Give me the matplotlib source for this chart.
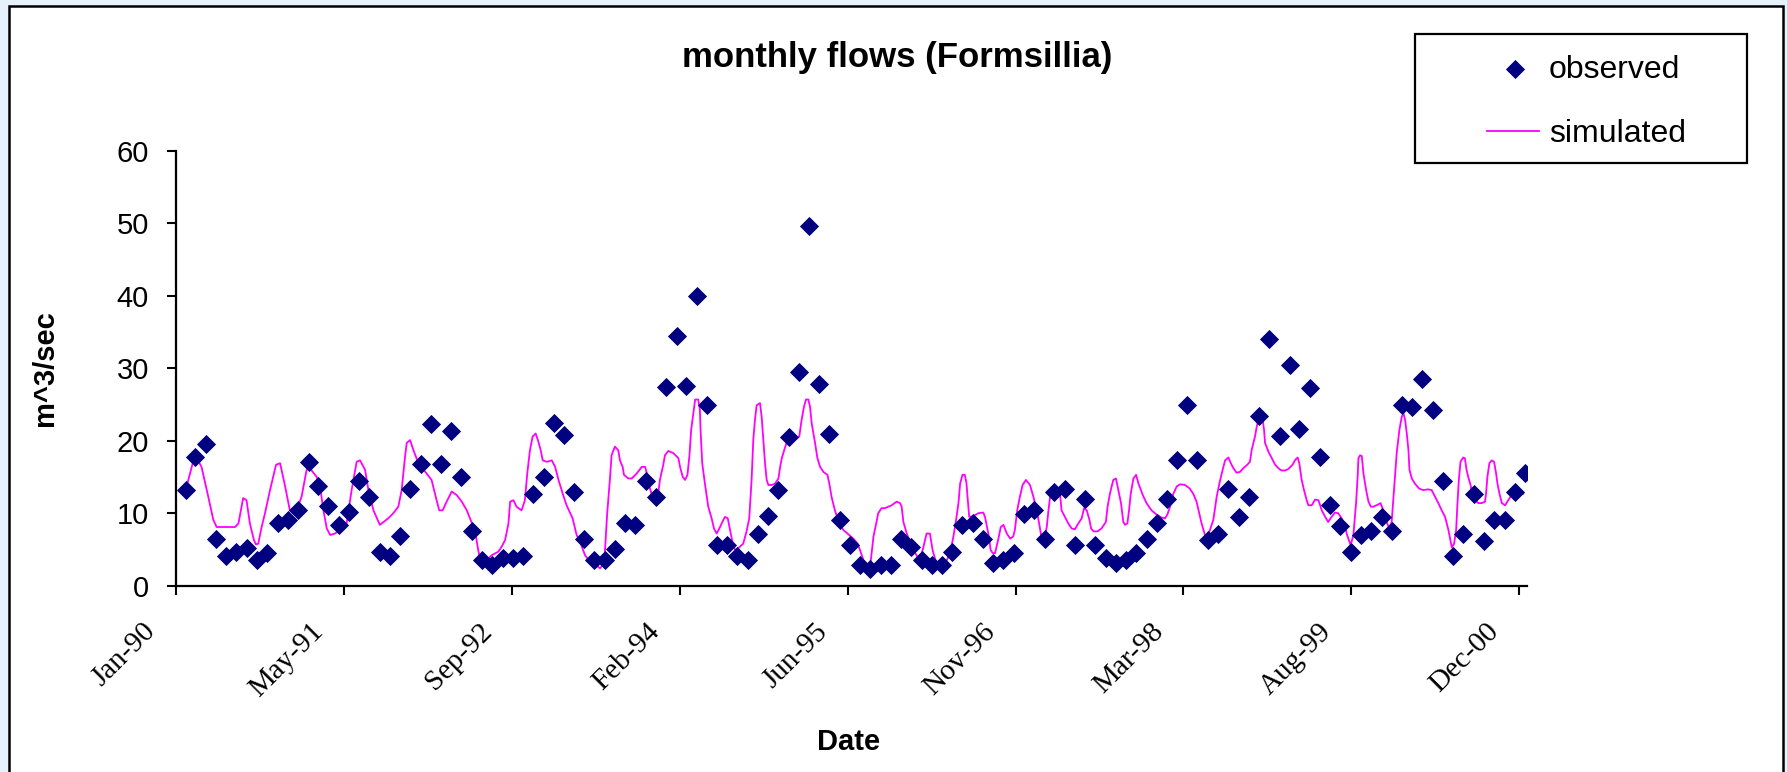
import matplotlib
matplotlib.use("Agg")
import matplotlib.pyplot as plt
from matplotlib.patches import Rectangle
from matplotlib.lines import Line2D
from matplotlib.transforms import ScaledTranslation
import numpy as np
import pandas as pd

# ---------------- data ----------------
title = "monthly flows (Formsillia)"
y_label = "m^3/sec"
x_label = "Date"
series_names = ["observed", "simulated"]

obs_first_month = "1990-01"
observed = [
    13.2, 17.7, 19.6, 6.5, 4.1, 4.7, 5.2, 3.5, 4.5, 8.6, 9.0, 10.4,
    17.1, 13.8, 11.0, 8.4, 10.2, 14.4, 12.3, 4.7, 4.1, 6.9, 13.4, 16.8,
    22.3, 16.8, 21.3, 15.0, 7.5, 3.5, 2.9, 3.8, 3.8, 4.1, 12.7, 15.0,
    22.5, 20.8, 12.9, 6.5, 3.5, 3.5, 5.0, 8.6, 8.4, 14.4, 12.3, 27.4,
    34.4, 27.6, 40.0, 24.9, 5.6, 5.6, 4.1, 3.5, 7.1, 9.6, 13.2, 20.5,
    29.5, 49.7, 27.9, 21.0, 9.1, 5.6, 2.9, 2.3, 2.9, 2.9, 6.5, 5.4,
    3.5, 2.9, 2.9, 4.7, 8.4, 8.6, 6.5, 3.2, 3.5, 4.5, 9.9, 10.5,
    6.5, 12.9, 13.4, 5.6, 11.9, 5.6, 3.8, 3.2, 3.5, 4.5, 6.5, 8.7,
    11.9, 17.4, 24.9, 17.4, 6.3, 7.1, 13.4, 9.5, 12.3, 23.4, 34.0, 20.7,
    30.4, 21.6, 27.3, 17.7, 11.1, 8.3, 4.7, 7.0, 7.5, 9.5, 7.5, 24.9,
    24.6, 28.5, 24.3, 14.4, 4.1, 7.1, 12.6, 6.2, 9.0, 9.0, 12.9, 15.6,
]

# simulated series: days after 1 Jan 1990 and flow value
sim_origin = "1990-01-01"
sim_day = [
    30, 52, 62, 76, 96, 111, 121, 176, 186, 200, 210, 220, 232, 238, 245, 255,
    265, 280, 298, 310, 325, 339, 354, 374, 389, 399, 419, 429, 439, 449, 459,
    473, 498, 508, 523, 538, 548, 563, 573, 588, 607, 632, 647, 662, 672, 682,
    687, 697, 707, 722, 746, 761, 776, 784, 794, 806, 821, 836, 851, 866, 877,
    890, 900, 905, 915, 925, 940, 960, 970, 980, 990, 995, 1005, 1014, 1029,
    1039, 1046, 1054, 1062, 1071, 1079, 1086, 1092, 1104, 1119, 1129, 1139,
    1153, 1163, 1181, 1193, 1203,
    1218, 1233, 1248, 1263, 1273, 1277, 1284, 1292, 1297, 1307, 1317, 1322,
    1330, 1334, 1347, 1357, 1372, 1387, 1397, 1402, 1407, 1416, 1436, 1441,
    1451, 1456, 1466, 1481, 1496, 1501, 1509, 1516, 1523, 1529, 1534, 1542,
    1546, 1555, 1560, 1562, 1567, 1575, 1585, 1595, 1602, 1610, 1620, 1630,
    1635, 1643, 1650, 1658, 1665, 1675, 1689, 1699, 1707, 1714, 1719, 1724,
    1729, 1739, 1744, 1749, 1754, 1759, 1764, 1774, 1784, 1794, 1799, 1804,
    1811, 1818, 1828, 1838, 1848, 1856, 1863, 1870, 1876, 1883, 1888, 1893,
    1903, 1910, 1918, 1928, 1940, 1947, 1952, 1962, 1977, 1987, 2002, 2017,
    2030, 2037, 2045, 2052, 2062, 2069, 2077, 2086, 2091, 2101, 2111, 2131,
    2146, 2156, 2161, 2166, 2176, 2191, 2201, 2215, 2225, 2235, 2245, 2253,
    2263, 2275, 2285, 2295, 2305, 2315, 2323, 2330, 2335, 2342, 2349, 2354,
    2357, 2362, 2374, 2389, 2404, 2409, 2419, 2426, 2432, 2439, 2449, 2456,
    2464, 2474, 2484, 2493, 2498, 2505, 2513, 2521, 2531, 2543,
    2553, 2563, 2571, 2576, 2588, 2593, 2598, 2603, 2613, 2622, 2632, 2637,
    2647, 2657, 2667, 2677, 2687, 2697, 2704, 2712, 2720, 2725, 2732, 2744,
    2756, 2769, 2774, 2781, 2791, 2799, 2806, 2814, 2821, 2826, 2833, 2838,
    2843, 2851, 2859, 2866, 2879, 2890, 2905, 2920, 2935, 2945, 2952, 2960,
    2970, 2980, 2990, 3005, 3019, 3029, 3039, 3047, 3054, 3064, 3071, 3079,
    3089, 3099, 3107, 3114, 3124, 3134, 3141, 3149, 3158, 3168, 3178, 3190,
    3198, 3203, 3213, 3218, 3223, 3230, 3236, 3240, 3243, 3253, 3263, 3273,
    3283, 3292, 3302, 3312, 3325, 3332, 3340, 3345, 3352, 3359, 3367, 3372,
    3382, 3392, 3402, 3412, 3422, 3431, 3441, 3451, 3461, 3471, 3481, 3486,
    3494, 3498, 3506, 3514, 3519, 3521, 3526, 3531, 3536, 3544, 3551, 3558,
    3565, 3575, 3587, 3595, 3605, 3613, 3620, 3627, 3635, 3643, 3650, 3655,
    3660, 3665, 3670, 3673, 3680, 3689, 3702, 3714, 3729, 3739, 3749, 3759,
    3769, 3779, 3784, 3789, 3794,
    3799, 3806, 3812, 3816, 3820, 3825, 3833, 3838, 3843, 3848, 3855, 3861,
    3868, 3878, 3888, 3898, 3901, 3905, 3911, 3918, 3925, 3931, 3935, 3941,
    3948, 3958, 3967, 3977, 3992, 4002, 4012,
]
simulated = [
    13.4, 17.3, 17.6, 16.4, 12.3, 9.1, 8.1, 8.1, 8.6, 12.1, 11.8, 8.6, 6.3, 5.7, 5.8, 8.1,
    10.0, 13.2, 16.7, 16.9, 13.7, 10.4, 9.8, 12.3, 16.0, 16.2, 15.0, 13.7, 10.4, 7.9, 7.0,
    7.2, 7.9, 8.6, 13.2, 17.1, 17.3, 16.0, 13.2, 10.4, 8.4, 9.3, 10.0, 10.9, 13.2, 17.8,
    19.7, 20.1, 18.7, 16.9, 15.5, 14.6, 11.8, 10.4, 10.4, 11.6, 13.0, 12.5, 11.6, 10.4, 9.1,
    7.7, 4.9, 3.8, 3.3, 3.5, 4.2, 4.7, 5.4, 6.3, 8.6, 11.6, 11.8, 10.9, 10.4,
    11.8, 15.5, 18.7, 20.6, 21.0, 19.9, 18.7, 17.3, 17.1, 17.3, 16.4, 14.6,
    12.5, 11.1, 9.3, 7.0, 6.1,
    4.2, 3.3, 2.9, 2.4, 3.1, 4.5, 10.0, 14.6, 18.0, 19.2, 18.7, 17.3,
    16.4, 15.3, 14.8, 14.8, 15.5, 16.4, 16.4, 15.5, 14.1, 12.7, 12.7, 14.6,
    16.7, 18.0, 18.6, 18.3, 17.6, 16.4, 15.0, 14.6, 15.3, 18.0, 21.5, 24.3,
    25.7, 25.7, 24.3, 21.5, 16.9, 14.1, 10.9, 9.3, 7.9, 7.2, 8.1, 9.1,
    9.5, 9.3, 7.7, 5.8, 4.9, 5.2, 5.8, 7.5, 9.3, 14.6, 20.1, 22.9,
    24.9, 25.2, 23.3, 20.1, 16.9, 14.6, 13.9, 13.9, 14.1, 14.8, 16.4, 17.6,
    18.7, 19.7, 20.6, 20.7, 20.3, 20.6, 22.9, 24.7, 25.7, 25.7, 24.7, 22.4,
    19.7, 17.6, 16.4, 15.7, 15.3, 13.7, 12.3, 10.4, 8.4, 7.7, 7.1, 6.5,
    5.8, 4.9, 3.8, 2.6, 2.3, 3.5, 6.8, 8.8, 10.0, 10.7, 10.7, 11.1,
    11.6, 11.4, 10.9, 8.8, 7.2, 5.4, 4.5, 3.5, 5.2, 7.2, 7.2, 4.9,
    3.3, 2.9, 2.9, 3.5, 4.5, 6.8, 9.1, 11.4, 14.1, 15.3, 15.3, 14.1,
    12.3, 9.5, 9.6, 10.0, 10.1, 9.5, 7.2, 4.9, 4.5, 4.5, 6.5, 8.1,
    8.4, 7.2, 6.5, 6.8, 7.7, 10.4, 12.3, 13.9, 14.6, 13.9,
    12.3, 10.4, 8.4, 7.0, 7.0, 8.1, 10.4, 12.3, 13.2, 13.0, 13.0, 10.4,
    9.5, 8.6, 7.9, 7.8, 8.6, 9.3, 10.7, 10.4, 9.1, 7.9, 7.5, 7.5,
    7.9, 8.8, 10.9, 12.7, 14.6, 14.8, 13.2, 11.4, 8.8, 8.4, 8.6, 10.4,
    12.7, 14.8, 15.3, 14.1, 12.5, 11.4, 10.4, 9.8, 9.4, 9.3, 9.8, 10.9,
    12.7, 13.7, 14.0, 13.9, 13.4, 12.7, 11.6, 10.0, 8.6, 7.0, 6.7, 7.7,
    9.1, 12.3, 14.1, 15.5, 17.3, 17.7, 16.9, 16.2, 15.6, 15.7, 16.2, 16.7,
    17.1, 18.7, 20.6, 21.9, 22.9, 23.1, 22.9, 21.5, 19.7, 18.5, 17.6, 16.7,
    16.2, 15.9, 15.9, 16.1, 16.7, 17.3, 17.7, 16.9, 14.6, 13.2, 11.8, 11.1,
    11.1, 11.9, 11.8, 10.4, 9.5, 8.8, 9.5, 10.1, 10.0, 9.3, 8.4, 7.2,
    6.1, 5.6, 7.0, 11.4, 15.3, 17.6, 18.0, 17.9, 15.5, 13.2, 11.6, 10.9,
    10.9, 11.1, 11.4, 10.4, 8.8, 7.9, 8.8, 13.2, 18.3, 21.5, 23.3, 23.8,
    22.9, 21.0, 18.7, 16.0, 14.8, 14.1, 13.4, 13.2, 13.3, 13.2, 12.3, 11.4,
    10.4, 9.5, 8.6, 7.7, 6.5,
    5.3, 5.8, 7.7, 11.4, 14.6, 17.1, 17.7, 17.6, 16.0, 15.0, 13.9, 12.3,
    11.8, 11.4, 11.4, 11.6, 12.7, 15.0, 16.9, 17.3, 17.1, 15.5, 14.1, 12.7,
    11.4, 11.1, 11.8, 12.5, 13.0, 12.8, 12.7,
]

y_ticks = [0, 10, 20, 30, 40, 50, 60]
x_axis_start = "1990-01-01"
x_tick_step_days = 500
n_x_ticks = 9
x_axis_span_days = 4023

# ---------------- derived dates ----------------
obs_dates = (pd.period_range(obs_first_month, periods=len(observed), freq="M")
             .to_timestamp(how="end").normalize())
sim_dates = pd.Timestamp(sim_origin) + pd.to_timedelta(sim_day, unit="D")
x0 = pd.Timestamp(x_axis_start)
tick_dates = [x0 + pd.Timedelta(days=x_tick_step_days * k) for k in range(n_x_ticks)]
tick_labels = [d.strftime("%b-%y") for d in tick_dates]

# ---------------- figure ----------------
W, H = 1787, 772
SANS = "Liberation Sans"
SERIF = "Liberation Serif"

fig = plt.figure(figsize=(W / 100, H / 100), dpi=100)
fig.patch.set_facecolor("#E6F2FB")


def fx(px):
    return px / W


def fy(py):
    return 1 - py / H


# white chart area with black border
fig.add_artist(Rectangle((fx(8.5), -0.05), fx(1783) - fx(8.5), fy(5.5) + 0.05,
                         transform=fig.transFigure, facecolor="white",
                         edgecolor="black", linewidth=1.8, zorder=-5))

ax = fig.add_axes([fx(176), fy(585.7), fx(1527) - fx(176), fy(151) - fy(585.7)])
ax.set_facecolor("none")

ax.plot(sim_dates.values, simulated, color="#FF00FF", lw=1.3, zorder=2)
ax.plot(obs_dates.values, observed, linestyle="none", marker="D", ms=9.5,
        mfc="#000080", mec="#000080", mew=0.6, zorder=3)

ax.set_ylim(0, 60)
ax.set_yticks(y_ticks)
ax.set_xlim(x0, x0 + pd.Timedelta(days=x_axis_span_days))
ax.set_xticks(tick_dates)
ax.set_xticklabels(tick_labels, rotation=45, ha="right", va="top",
                   fontfamily=SERIF, fontsize=21)
for lab in ax.get_yticklabels():
    lab.set_fontfamily(SANS)
    lab.set_fontsize(21)

for s in ("top", "right"):
    ax.spines[s].set_visible(False)
for s in ("left", "bottom"):
    ax.spines[s].set_linewidth(1.6)
    ax.spines[s].set_color("black")

ax.tick_params(axis="both", direction="out", length=6.5, width=1.5, color="black")
ax.tick_params(axis="y", pad=13)
ax.tick_params(axis="x", pad=17)

offset = ScaledTranslation(-15 / 100, 0, fig.dpi_scale_trans)
for lab in ax.get_xticklabels():
    lab.set_transform(lab.get_transform() + offset)

ax.set_ylabel(y_label, fontsize=21, fontweight="bold", fontfamily=SANS)
ax.yaxis.set_label_coords(-0.0866, 0.5)
ax.set_xlabel(x_label, fontsize=21, fontweight="bold", fontfamily=SANS)
ax.xaxis.set_label_coords(0.498, -0.327)

fig.text(fx(897.5), fy(67), title, ha="center", va="baseline", fontsize=25,
         fontweight="bold", fontfamily=SANS)

# legend (Excel style box)
fig.add_artist(Rectangle((fx(1415), fy(163)), fx(1747) - fx(1415), fy(34) - fy(163),
                         transform=fig.transFigure, facecolor="white",
                         edgecolor="black", linewidth=1.6, zorder=5))
fig.add_artist(Line2D([fx(1515)], [fy(68.6)], transform=fig.transFigure,
                      linestyle="none", marker="D", ms=9.5, mfc="#000080",
                      mec="#000080", mew=0.6, zorder=6))
fig.add_artist(Line2D([fx(1487), fx(1539)], [fy(131), fy(131)], transform=fig.transFigure,
                      color="#FF00FF", lw=1.3, zorder=6))
fig.text(fx(1549), fy(78), series_names[0], ha="left", va="baseline", fontsize=23,
         fontfamily=SANS, zorder=6)
fig.text(fx(1549), fy(141.7), series_names[1], ha="left", va="baseline", fontsize=23,
         fontfamily=SANS, zorder=6)

fig.savefig("out.png", dpi=100, facecolor=fig.get_facecolor())
